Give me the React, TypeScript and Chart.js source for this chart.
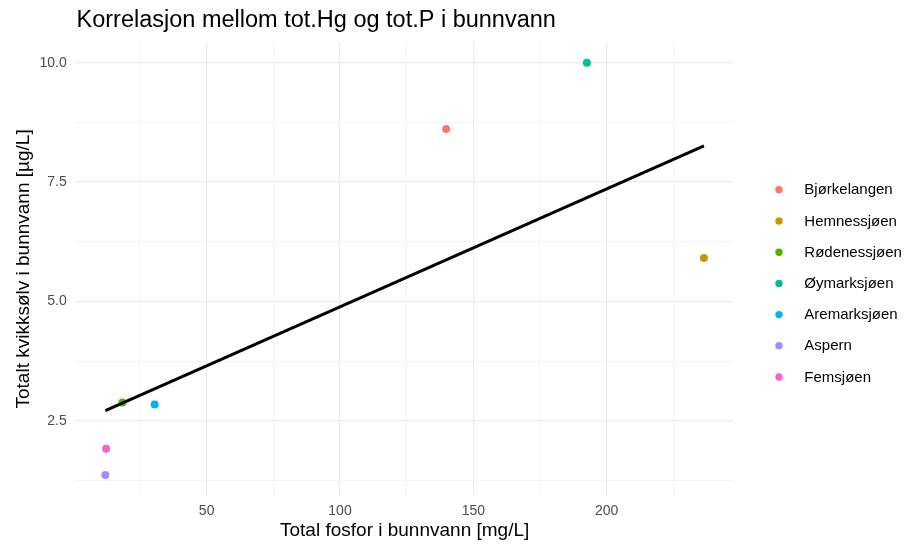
import React, { useEffect, useRef } from "react";
import { Chart, registerables } from "chart.js";

Chart.register(...registerables);

// Lakes and measured values in bottom water
const lakes = ["Bjørkelangen", "Hemnessjøen", "Rødenessjøen", "Øymarksjøen", "Aremarksjøen", "Aspern", "Femsjøen"];
const totalP = [139.8, 236.5, 18.4, 192.6, 30.5, 12.0, 12.3]; // mg/L
const totalHg = [8.61, 5.91, 2.88, 10.0, 2.84, 1.36, 1.91]; // µg/L
const lakeColors = ["#F8766D", "#C49A00", "#53B400", "#00C094", "#00B6EB", "#A58AFF", "#FB61D7"];

// Fitted trend line endpoints
const fitP = [12.0, 236.5];
const fitHg = [2.71, 8.26];

const titleText = "Korrelasjon mellom tot.Hg og tot.P i bunnvann";
const xTitle = "Total fosfor i bunnvann [mg/L]";
const yTitle = "Totalt kvikksølv i bunnvann [µg/L]";

const FONT = '"Liberation Sans", Arial, Helvetica, sans-serif';

const near = (v: number, step: number) => Math.abs(v / step - Math.round(v / step)) < 1e-6;

function expand(vals: number[]) {
  const lo = Math.min(...vals);
  const hi = Math.max(...vals);
  const pad = (hi - lo) * 0.05;
  return [lo - pad, hi + pad];
}

const decorPlugin = {
  id: "decor",
  afterDraw(chart: any) {
    const ctx = chart.ctx;
    const area = chart.chartArea;
    ctx.save();
    ctx.fillStyle = "#000000";
    ctx.textBaseline = "alphabetic";

    // plot title
    ctx.font = `23.5px ${FONT}`;
    ctx.textAlign = "left";
    ctx.fillText(titleText, 76.5, 27);

    // axis titles, centred on the panel
    ctx.font = `19px ${FONT}`;
    ctx.textAlign = "center";
    ctx.fillText(xTitle, (area.left + area.right) / 2, 536);

    ctx.save();
    ctx.translate(28.5, (area.top + area.bottom) / 2);
    ctx.rotate(-Math.PI / 2);
    ctx.fillText(yTitle, 0, 0);
    ctx.restore();

    // legend
    ctx.font = `15px ${FONT}`;
    ctx.textAlign = "left";
    ctx.textBaseline = "middle";
    lakes.forEach((name, i) => {
      const y = 189.8 + i * 31.2;
      ctx.beginPath();
      ctx.arc(779, y, 3.7, 0, Math.PI * 2);
      ctx.fillStyle = lakeColors[i];
      ctx.fill();
      ctx.fillStyle = "#000000";
      ctx.fillText(name, 804.3, y + 0.5);
    });
    ctx.restore();
  },
};

export default function App() {
  const canvasRef = useRef<HTMLCanvasElement>(null);

  useEffect(() => {
    if (!canvasRef.current) return;
    const [xMin, xMax] = expand(totalP);
    const [yMin, yMax] = expand(totalHg);

    const pointSets = lakes.map((name, i) => ({
      type: "scatter" as const,
      label: name,
      data: [{ x: totalP[i], y: totalHg[i] }],
      backgroundColor: lakeColors[i],
      borderColor: lakeColors[i],
      borderWidth: 0,
      pointRadius: 4,
      order: 1,
    }));

    const fitSet = {
      type: "line" as const,
      label: "trend",
      data: fitP.map((x, i) => ({ x, y: fitHg[i] })),
      borderColor: "#000000",
      borderWidth: 3,
      pointRadius: 0,
      fill: false,
      order: 0,
    };

    const chart = new Chart(canvasRef.current, {
      type: "scatter",
      data: { datasets: [fitSet as any, ...pointSets] },
      options: {
        animation: false,
        responsive: false,
        devicePixelRatio: 1,
        layout: { padding: { top: 42.1, right: 174.1, bottom: 0, left: 0 } },
        plugins: {
          legend: { display: false },
          title: { display: false },
          tooltip: { enabled: false },
        },
        scales: {
          x: {
            type: "linear",
            min: xMin,
            max: xMax,
            afterFit: (s: any) => {
              s.height = 48.3;
            },
            border: { display: false },
            grid: {
              drawTicks: false,
              color: (c: any) => (near(c.tick.value, 50) ? "#EBEBEB" : "#F2F2F2"),
              lineWidth: (c: any) => (near(c.tick.value, 50) ? 1.2 : 0.9),
            },
            ticks: {
              stepSize: 25,
              includeBounds: false,
              autoSkip: false,
              maxRotation: 0,
              padding: 7,
              color: "#4D4D4D",
              font: { family: FONT, size: 14 },
              callback: (v: any) => (near(Number(v), 50) ? String(Number(v)) : ""),
            },
          },
          y: {
            type: "linear",
            min: yMin,
            max: yMax,
            afterFit: (s: any) => {
              s.width = 75.4;
            },
            border: { display: false },
            grid: {
              drawTicks: false,
              color: (c: any) => (near(c.tick.value, 2.5) ? "#EBEBEB" : "#F2F2F2"),
              lineWidth: (c: any) => (near(c.tick.value, 2.5) ? 1.2 : 0.9),
            },
            ticks: {
              stepSize: 1.25,
              includeBounds: false,
              autoSkip: false,
              padding: 8.7,
              color: "#4D4D4D",
              font: { family: FONT, size: 14 },
              callback: (v: any) => (near(Number(v), 2.5) ? Number(v).toFixed(1) : ""),
            },
          },
        },
      },
      plugins: [decorPlugin],
    });

    return () => chart.destroy();
  }, []);

  return (
    <div style={{ position: "fixed", left: 0, top: 0, width: 908, height: 544, background: "#FFFFFF" }}>
      <canvas ref={canvasRef} width={908} height={544} style={{ display: "block" }} />
    </div>
  );
}
